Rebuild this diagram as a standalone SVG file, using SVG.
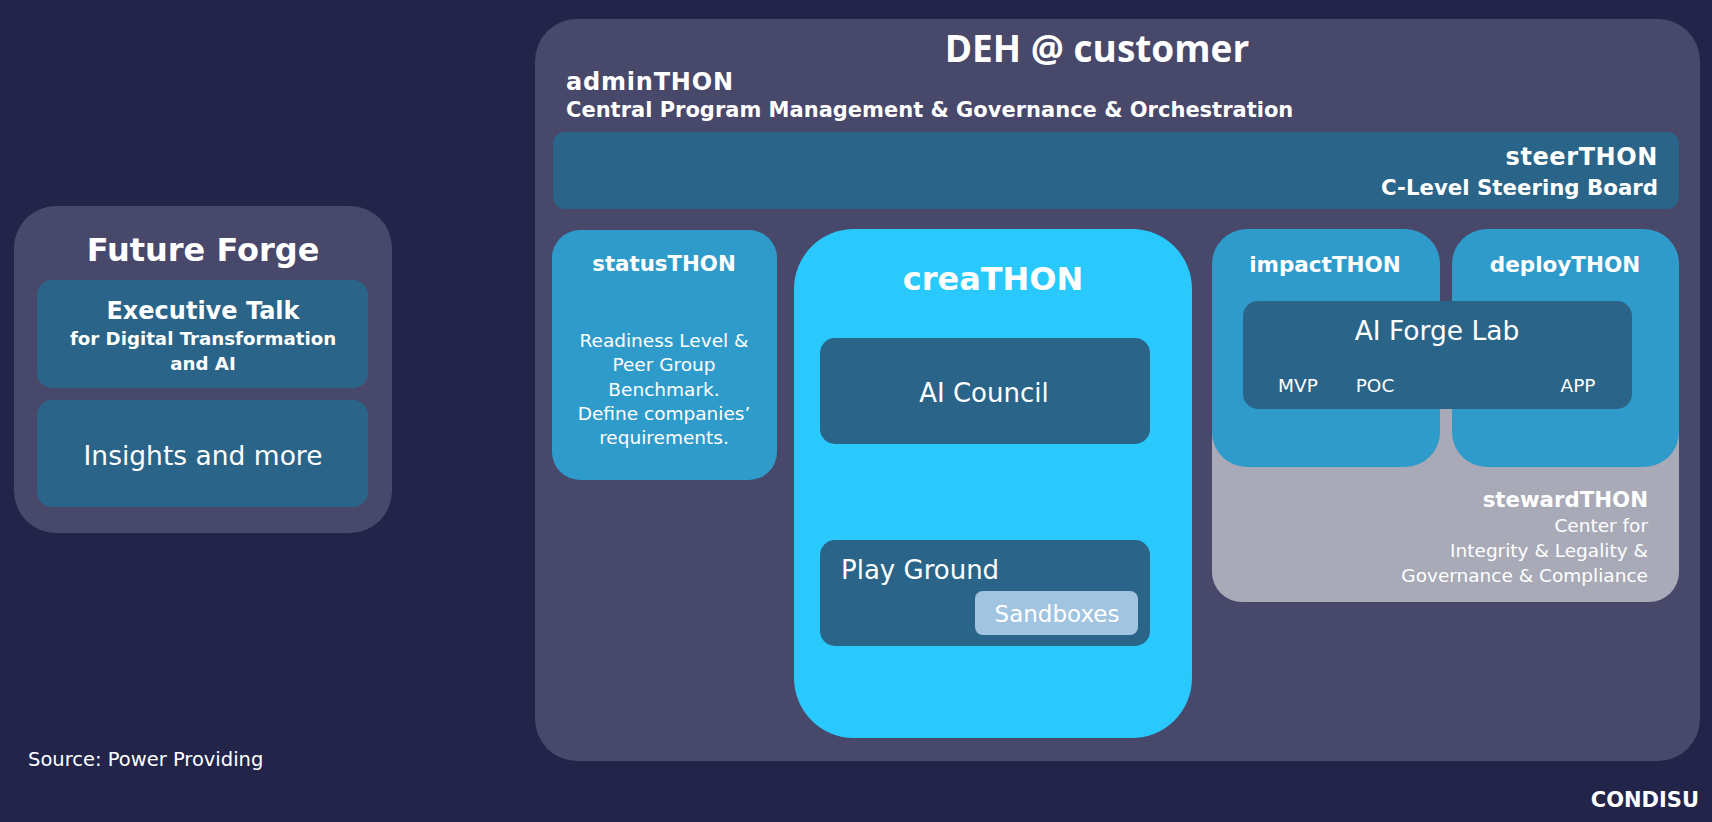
<svg xmlns="http://www.w3.org/2000/svg" width="1712" height="822" viewBox="0 0 1712 822">
<style>
text{font-family:"DejaVu Sans","Open Sans","Liberation Sans",sans-serif;fill:#ffffff}
.b{font-weight:700}
.c{text-anchor:middle}
.r{text-anchor:end}
.os{font-family:"Open Sans","Noto Sans",sans-serif;font-weight:600}
.frame{fill:#48486a}
.dark{fill:#2a6589}
.mid{fill:#2f9bcb}
</style>
<rect width="1712" height="822" fill="#22244a"/>
<g id="future-forge">
<rect class="frame" x="14" y="206" width="378" height="327" rx="42"/>
<text class="b c" x="203" y="261" font-size="32">Future Forge</text>
</g>
<g id="executive-talk">
<rect class="dark" x="37" y="280" width="331" height="108" rx="15"/>
<text class="b c" x="203" y="319" font-size="24">Executive Talk</text>
<text class="b c" x="203" y="345" font-size="18.2">for Digital Transformation</text>
<text class="b c" x="203" y="370" font-size="18.2">and AI</text>
</g>
<g id="insights">
<rect class="dark" x="37" y="400" width="331" height="107" rx="15"/>
<text class="c" x="203" y="465" font-size="26.5">Insights and more</text>
</g>
<g id="deh">
<rect class="frame" x="535" y="19" width="1165" height="742" rx="42"/>
<text class="os c" x="1097" y="62" font-size="37" style="font-weight:700">DEH @ customer</text>
</g>
<g id="adminthon">
<text class="b" x="566" y="90" font-size="24" letter-spacing="0.8">adminTHON</text>
<text class="b" x="566" y="117" font-size="21">Central Program Management &amp; Governance &amp; Orchestration</text>
</g>
<g id="steerthon">
<rect class="dark" x="553" y="132" width="1126" height="77" rx="12"/>
<text class="b r" x="1658" y="165" font-size="24" letter-spacing="0.6">steerTHON</text>
<text class="b r" x="1658" y="195" font-size="21.3">C-Level Steering Board</text>
</g>
<g id="statusthon">
<rect class="mid" x="552" y="230" width="225" height="250" rx="28"/>
<text class="b c" x="664" y="271" font-size="21.3">statusTHON</text>
<text class="c" x="664" y="347" font-size="18.5">Readiness Level &amp;</text>
<text class="c" x="664" y="371" font-size="18.5">Peer Group</text>
<text class="c" x="664" y="396" font-size="18.5">Benchmark.</text>
<text class="c" x="664" y="420" font-size="18.5">Define companies’</text>
<text class="c" x="664" y="444" font-size="18.5">requirements.</text>
</g>
<g id="creathon">
<rect fill="#29c9fd" x="794" y="229" width="398" height="509" rx="60"/>
<text class="b c" x="993" y="290" font-size="32">creaTHON</text>
</g>
<g id="ai-council">
<rect class="dark" x="820" y="338" width="330" height="106" rx="15"/>
<text class="c" x="984" y="402" font-size="26">AI Council</text>
</g>
<g id="play-ground">
<rect class="dark" x="820" y="540" width="330" height="106" rx="15"/>
<text x="841" y="579" font-size="26">Play Ground</text>
</g>
<g id="sandboxes">
<rect fill="#a1c4e0" x="975" y="591" width="163" height="44" rx="8"/>
<text class="c" x="1057" y="622" font-size="23">Sandboxes</text>
</g>
<g id="stewardthon">
<rect fill="#a9aab7" x="1212" y="330" width="467" height="272" rx="30"/>
<text class="b r" x="1648" y="507" font-size="21.3">stewardTHON</text>
<text class="r" x="1648" y="532" font-size="18.5">Center for</text>
<text class="r" x="1648" y="557" font-size="18.5">Integrity &amp; Legality &amp;</text>
<text class="r" x="1648" y="582" font-size="18.5">Governance &amp; Compliance</text>
</g>
<g id="impactthon">
<rect class="mid" x="1212" y="229" width="228" height="238" rx="35"/>
<text class="b c" x="1325" y="272" font-size="21.5">impactTHON</text>
</g>
<g id="deploython">
<rect class="mid" x="1452" y="229" width="227" height="238" rx="35"/>
<text class="b c" x="1565" y="272" font-size="21.5">deployTHON</text>
</g>
<g id="ai-forge-lab">
<rect class="dark" x="1243" y="301" width="389" height="108" rx="15"/>
<text class="c" x="1437" y="340" font-size="26.5">AI Forge Lab</text>
<text class="c" x="1298" y="392" font-size="18.5">MVP</text>
<text class="c" x="1375" y="392" font-size="18.5">POC</text>
<text class="c" x="1578" y="392" font-size="18.5">APP</text>
</g>
<g id="connectors"></g>
<text x="28" y="766" font-size="19.5">Source: Power Providing</text>
<text class="b r" x="1699" y="807" font-size="21">CONDISU</text>
</svg>
